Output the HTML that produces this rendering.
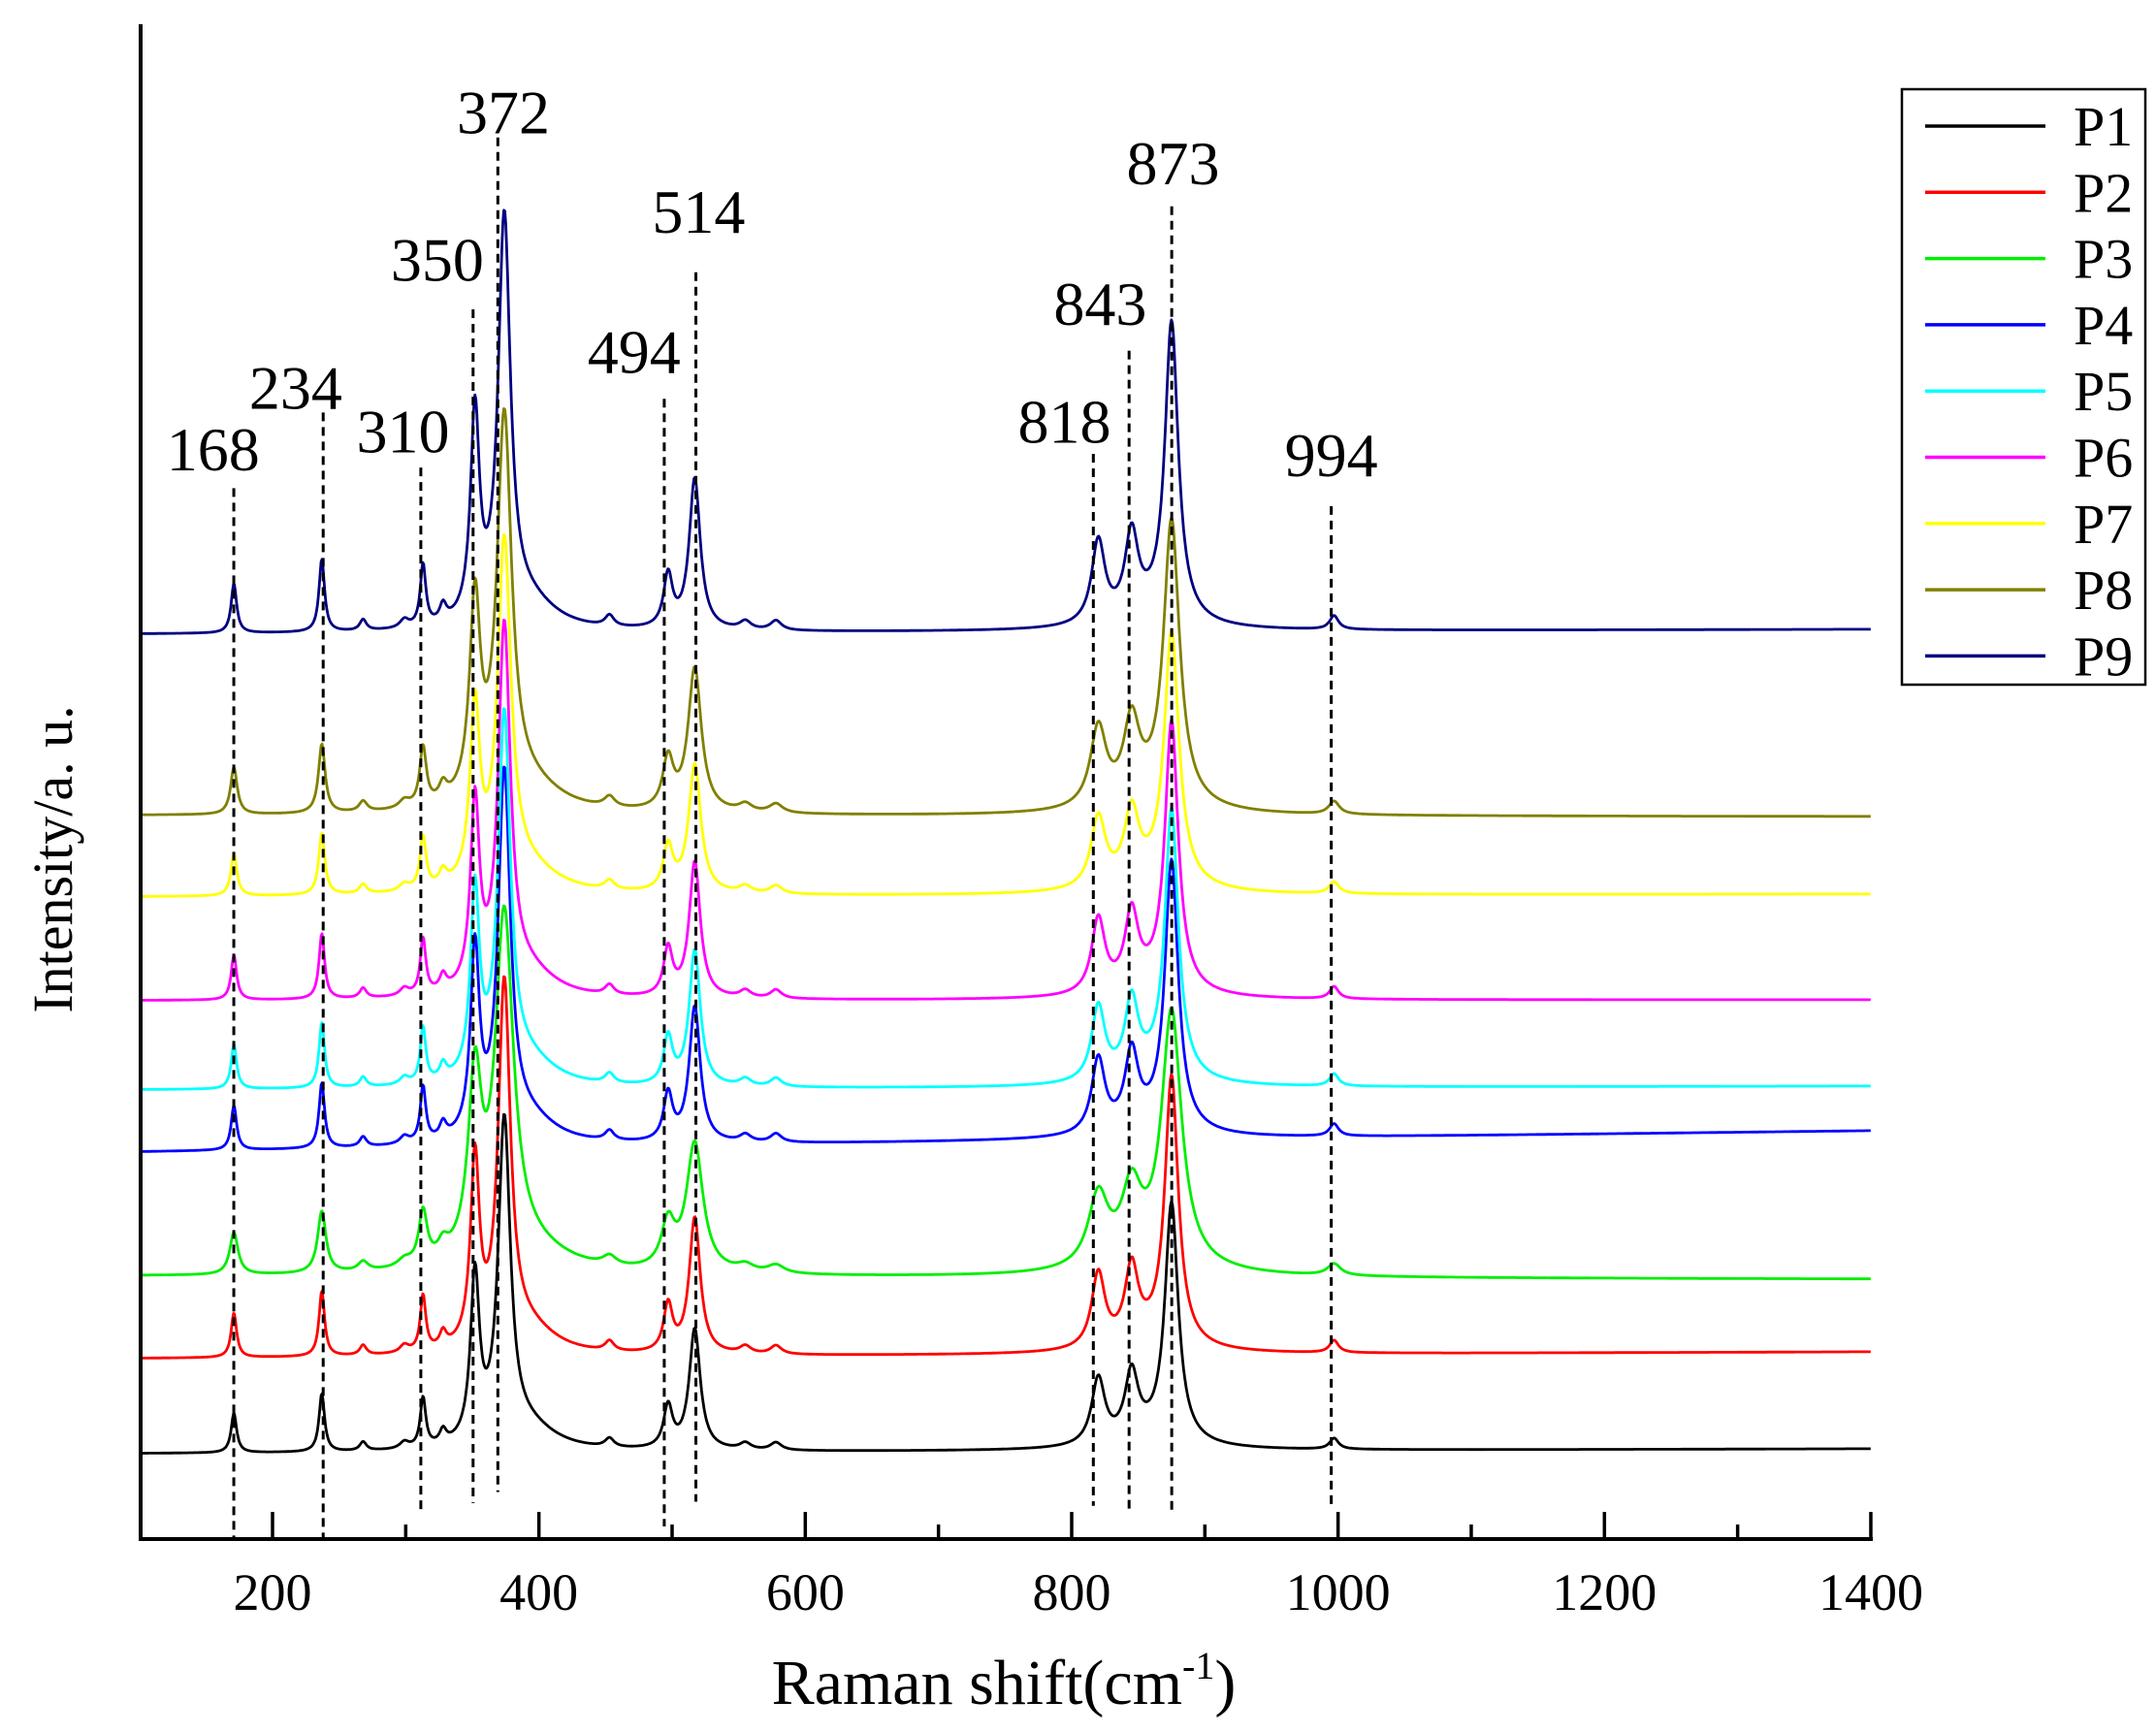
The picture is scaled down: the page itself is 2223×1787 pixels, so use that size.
<!DOCTYPE html>
<html><head><meta charset="utf-8"><style>
html,body{margin:0;padding:0;background:#fff;}
svg{display:block;}
text{font-family:"Liberation Serif",serif;fill:#000;}
</style></head><body>
<svg id="s" width="2223" height="1787" viewBox="0 0 2223 1787" xmlns="http://www.w3.org/2000/svg">
<g id="curves" fill="none" stroke-width="2.8" stroke-linejoin="round"></g>
<g id="dash" stroke="#000" stroke-width="3" stroke-dasharray="9,6"></g>
<line x1="145" y1="25" x2="145" y2="1587" stroke="#000" stroke-width="4"/>
<line x1="143" y1="1587" x2="1931" y2="1587" stroke="#000" stroke-width="4"/>
<g id="ticks" stroke="#000" stroke-width="3.5"></g>
<g font-size="54" text-anchor="middle" id="tl"></g>
<g font-size="64" text-anchor="middle" id="pl"></g>
<text x="1035" y="1757" font-size="66" text-anchor="middle">Raman shift(cm<tspan font-size="40" dy="-26">-1</tspan><tspan dy="26">)</tspan></text>
<text transform="translate(74,886) rotate(-90)" font-size="58" text-anchor="middle">Intensity/a. u.</text>
<rect x="1961" y="92" width="251" height="614" fill="#fff" stroke="#000" stroke-width="2.5"/>
<g id="leg"></g>
</svg>
<script>
const NS="http://www.w3.org/2000/svg";
function el(t,a,p,txt){const e=document.createElementNS(NS,t);for(const k in a)e.setAttribute(k,a[k]);if(txt)e.textContent=txt;document.getElementById(p).appendChild(e);return e;}
const X=v=>281+(v-200)*1.3733;
for(let v=200;v<=1400;v+=100){const maj=v%200==0;el('line',{x1:X(v),x2:X(v),y1:1587,y2:1587-(maj?28:15)},'ticks');
 if(maj)el('text',{x:X(v),y:1660},'tl',String(v));}
const P=[[171,36,2.5],[237,53,2.5],[268,8,3],[299,6,4],[313,45,2.5],[328,12,3],[352,150,4],[374,290,5.5],[392,20,25],[453,8,4],[497,38,4],[517,110,5],[555,6,5],[578,7,5],[820,60,6],[845,60,6],[875,215,6],[862,10,30],[997,10,4]];
const S=[
 ['#000000',1499,1494,0.8,1],
 ['#ff0000',1401,1394,0.9,1],
 ['#00ee00',1316,1319,0.85,1.5],
 ['#0000ff',1188,1166,0.9,1],
 ['#00ffff',1124,1120,0.9,1],
 ['#ff00ff',1032,1031,0.9,1],
 ['#ffff00',925,922,0.85,1.1],
 ['#808000',841,842,0.95,1.2],
 ['#000080',654,649,1.418,1]];
S.forEach((s,i)=>{
 let d='';
 for(let v=100;v<=1400;v+=0.7){
  let y=0;for(const p of P){const w=p[2]*s[4];const dv=(v-p[0])/w;y+=p[1]/(1+dv*dv);}
  const base=s[1]+(s[2]-s[1])*(v-100)/1300;
  const yy=base-y*s[3]*(i==8?1:1.418);
  d+=(d?'L':'M')+X(v).toFixed(1)+' '+yy.toFixed(1);
 }
 el('path',{d:d,stroke:s[0]},'curves');
 const ly=130+i*68.3;
 el('line',{x1:1985,x2:2109,y1:ly,y2:ly,stroke:s[0],'stroke-width':3.5},'leg');
 el('text',{x:2138,y:ly+20,'font-size':58},'leg','P'+(i+1));
});
const D=[[168,170,355,1118,155,328],[234,235,300,1118,215,283],[310,306,340,1100,293,315],[350,344,225,1093,318,190],[372,362,100,1085,366,83],[494,483,290,1110,461,257],[514,506,198,1092,508,155],[818,795,330,1095,774,308],[843,821,255,1100,800,222],[873,852,150,1100,853,120],[994,968,368,1095,968,332]];
const k=1.418;
D.forEach(d=>{el('line',{x1:d[1]*k,x2:d[1]*k,y1:d[2]*k,y2:d[3]*k},'dash');
 el('text',{x:d[4]*k,y:d[5]*k+20},'pl',String(d[0]));});
</script>
</body></html>
